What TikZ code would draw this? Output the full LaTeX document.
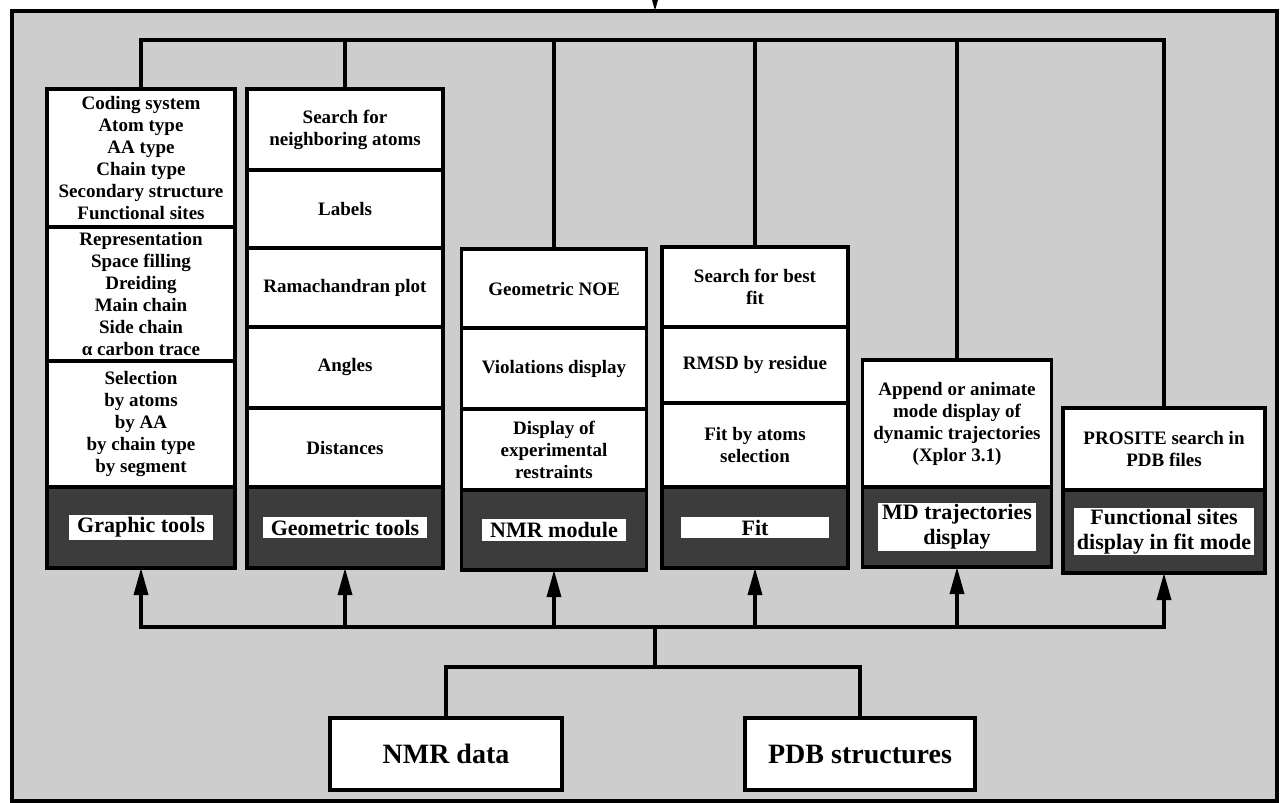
\documentclass[tikz,border=0pt]{standalone}
\usepackage{fontspec}
\setmainfont{Liberation Serif}
\usetikzlibrary{arrows.meta,positioning}
\definecolor{PaperWhite}{HTML}{FFFFFF}
\definecolor{InkBlack}{HTML}{000000}
\definecolor{ScreenLight}{HTML}{CDCDCD}
\definecolor{ScreenDark}{HTML}{3C3C3C}
\tikzset{
    % boxes of the tool columns
    toolcell/.style={
        rectangle,
        draw=InkBlack,
        line width=3.4pt,
        fill=PaperWhite,
        text=InkBlack,
        align=center,
        inner sep=2pt,
        outer sep=0pt,
        font=\fontsize{19}{22}\selectfont\bfseries
    },
    toolcell dark/.style={
        toolcell,
        fill=ScreenDark
    },
    toollabel/.style={
        rectangle,
        draw=none,
        fill=PaperWhite,
        text=InkBlack,
        align=center,
        inner xsep=8pt,
        inner ysep=3pt,
        font=\fontsize{22}{25}\selectfont\bfseries
    },
    datasource/.style={
        toolcell,
        minimum height=72pt,
        font=\fontsize{28}{30}\selectfont\bfseries
    },
    outerframe/.style={
        rectangle,
        draw=InkBlack,
        line width=3.4pt,
        fill=ScreenLight,
        outer sep=0pt
    },
    wire/.style={
        line width=3.4pt,
        draw=InkBlack
    },
    arrow/.style={
        wire,
        -{Triangle[length=27pt,width=14pt]}
    }
}
\begin{document}
\begin{tikzpicture}[x=1pt, y=-1pt]
    \useasboundingbox (0,0) rectangle (1280,803);

    % Screened background
    \node[outerframe, minimum width=1265pt, minimum height=790pt, anchor=north west] (panel) at (12,11) {};

    % Graphic tools
    \node[toolcell, minimum width=188pt, minimum height=138pt, anchor=north] (coding) at (141,89)
          {Coding system\\Atom type\\AA type\\Chain type\\Secondary structure\\Functional sites};
    \node[toolcell, minimum width=188pt, minimum height=134pt, below=0pt of coding] (repr)
          {Representation\\Space filling\\Dreiding\\Main chain\\Side chain\\α carbon trace};
    \node[toolcell, minimum width=188pt, minimum height=126pt, below=0pt of repr] (select)
          {Selection\\by atoms\\by AA\\by chain type\\by segment};
    \node[toolcell dark, minimum width=188pt, minimum height=81pt, below=0pt of select] (gdark) {};
    \node[toollabel] (glabel) at (gdark) {Graphic tools};

    % Geometric tools
    \node[toolcell, minimum width=196pt, minimum height=81pt, anchor=north] (search) at (345,89)
          {Search for\\neighboring atoms};
    \node[toolcell, minimum width=196pt, minimum height=78pt, below=0pt of search] (labels) {Labels};
    \node[toolcell, minimum width=196pt, minimum height=79pt, below=0pt of labels] (rama) {Ramachandran plot};
    \node[toolcell, minimum width=196pt, minimum height=81pt, below=0pt of rama] (angles) {Angles};
    \node[toolcell, minimum width=196pt, minimum height=79pt, below=0pt of angles] (dist) {Distances};
    \node[toolcell dark, minimum width=196pt, minimum height=81pt, below=0pt of dist] (mdark) {};
    \node[toollabel] (mlabel) at (mdark) {Geometric tools};

    % NMR module
    \node[toolcell, minimum width=185pt, minimum height=79pt, anchor=north] (noe) at (554,249) {Geometric NOE};
    \node[toolcell, minimum width=185pt, minimum height=81pt, below=0pt of noe] (viol) {Violations display};
    \node[toolcell, minimum width=185pt, minimum height=81pt, below=0pt of viol] (restr)
          {Display of\\experimental\\restraints};
    \node[toolcell dark, minimum width=185pt, minimum height=80pt, below=0pt of restr] (ndark) {};
    \node[toollabel] (nlabel) at (ndark) {NMR module};

    % Fit
    \node[toolcell, minimum width=186pt, minimum height=80pt, anchor=north] (bestfit) at (755,247)
          {Search for best\\fit};
    \node[toolcell, minimum width=186pt, minimum height=76pt, below=0pt of bestfit] (rmsd) {RMSD by residue};
    \node[toolcell, minimum width=186pt, minimum height=84pt, below=0pt of rmsd] (atomfit)
          {Fit by atoms\\selection};
    \node[toolcell dark, minimum width=186pt, minimum height=81pt, below=0pt of atomfit] (fdark) {};
    \node[toollabel, minimum width=148pt] (flabel) at (fdark) {Fit};

    % MD trajectories
    \node[toolcell, minimum width=189pt, minimum height=127pt, anchor=north] (append) at (957,360)
          {Append or animate\\mode display of\\dynamic trajectories\\(Xplor 3.1)};
    \node[toolcell dark, minimum width=189pt, minimum height=80pt, below=0pt of append] (tdark) {};
    \node[toollabel, inner xsep=4pt, inner ysep=1pt] (tlabel) at (tdark) {MD trajectories\\display};

    % Functional sites
    \node[toolcell, minimum width=202pt, minimum height=82pt, anchor=north] (prosite) at (1164,408)
          {PROSITE search in\\PDB files};
    \node[toolcell dark, minimum width=202pt, minimum height=83pt, below=0pt of prosite] (sdark) {};
    \node[toollabel, inner xsep=3pt, inner ysep=1pt] (slabel) at (sdark) {Functional sites\\display in fit mode};

    % Data sources
    \node[datasource, minimum width=232pt] (nmrdata) at (446,754) {NMR data};
    \node[datasource, minimum width=230pt] (pdb) at (860,754) {PDB structures};

    % Buses
    \coordinate (feed) at (655,-30);
    \coordinate (topbus) at (655,40);
    \coordinate (botbus) at (655,627);
    \coordinate (split) at (655,667);

    \draw[arrow] (feed) -- (feed |- panel.north);
    \foreach \n in {coding,search,noe,bestfit,append,prosite}
        \draw[wire] (topbus) -| (\n);
    \foreach \n in {gdark,mdark,ndark,fdark,tdark,sdark}
        \draw[arrow] (botbus) -| (\n);
    \draw[wire] (split) -- (botbus);
    \draw[wire] (split) -| (nmrdata);
    \draw[wire] (split) -| (pdb);
\end{tikzpicture}
\end{document}
